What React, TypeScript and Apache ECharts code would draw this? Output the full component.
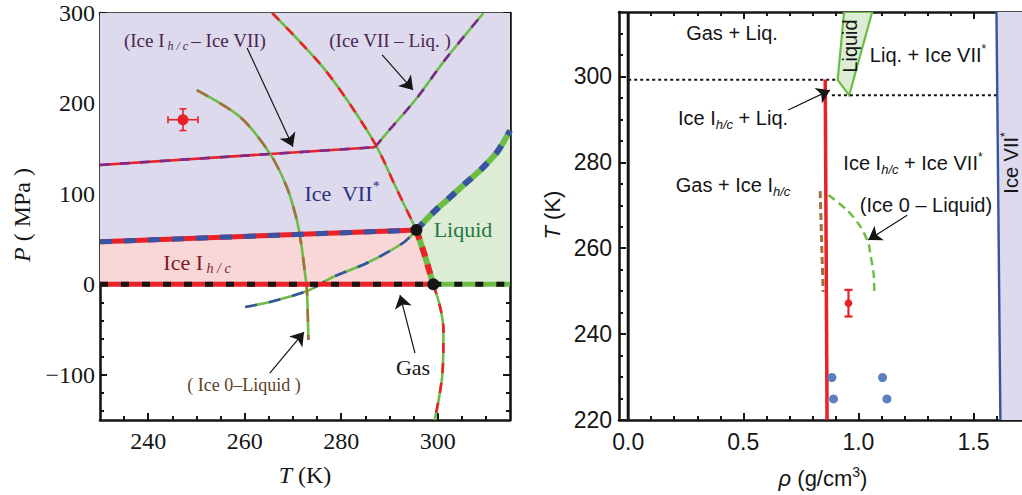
import React, { useEffect, useRef } from "react";
import * as echarts from "echarts";

const SERIF = "'Liberation Serif', 'Times New Roman', serif";
const SANS = "'Liberation Sans', Arial, Helvetica, sans-serif";

// ---------- Left panel: P (MPa) vs T (K) ----------
const leftTMajor = [240, 260, 280, 300];
const leftTMinor = [235, 245, 250, 255, 265, 270, 275, 285, 290, 295, 305, 310];
const leftPMajor = [-100, 0, 100, 200, 300];
const leftPMinor = [-140, -120, -80, -60, -40, -20, 20, 40, 60, 80, 120, 140, 160, 180, 220, 240, 260, 280];

const zeroPressureIce = [[230, 0], [299.1, 0]];
const zeroPressureLiquid = [[299.1, 0], [315, 0]];
const iceIhIceVII = [[230, 47], [295.6, 60]];
const liquidIceVII = [[295.6, 60], [299, 79], [301.9, 93], [305.2, 109], [308.8, 126], [312.3, 146], [315, 170]];
const meltingIceIh = [[295.6, 60], [297.4, 31], [299.1, 0]];
const meltingUpperExt = [[265.7, 300], [271.5, 267.9], [276.7, 236.9], [281.8, 199.3], [287.4, 151.8], [291.4, 106.5], [295.6, 60]];
const meltingLowerExt = [[299.1, 0], [300.5, -24.8], [301.2, -50.5], [301.0, -98.4], [299.4, -150]];
const iceIhIceVIIExt = [[230, 132], [287.0, 151.6]];
const iceVIILiqExt = [[287.0, 151.6], [289.4, 167], [295.7, 206], [301.2, 246], [306, 277.5], [309.5, 300]];
const ice0Liquid = [[250.05, 214.8], [259.0, 185.3], [265.2, 144.8], [268.7, 107.9], [270.8, 71.1], [271.8, 41.6], [272.5, 12.2], [272.9, -6.3], [273.2, -61.6]];
const ice0IceIh = [[260.1, -25.1], [265.2, -19.6], [272.9, -7.4], [278.3, 8.1], [285.35, 23.6], [292.8, 45.7], [295.6, 60]];
const triplePoints = [[295.6, 60], [299.1, 0]];
const leftMeasured = [[247.2, 182, 244.1, 250.3, 170, 194]];

const iceVIIRegion = [[230, 300], [315, 300], ...[...liquidIceVII].reverse(), [230, 47]];
const iceIhRegion = [[230, 47], [295.6, 60], [297.4, 31], [299.1, 0], [230, 0]];
const liquidRegion = [...liquidIceVII, [315, 0], [299.1, 0], [297.4, 31]];

// ---------- Right panel: T (K) vs rho (g/cm3) ----------
const rightRhoMajor = [0, 0.5, 1.0, 1.5];
const rightRhoMinor = [0.1, 0.2, 0.3, 0.4, 0.6, 0.7, 0.8, 0.9, 1.1, 1.2, 1.3, 1.4, 1.6, 1.7];
const rightTMajor = [220, 240, 260, 280, 300];
const rightTMinor = [225, 230, 235, 245, 250, 255, 265, 270, 275, 285, 290, 295, 305, 310];

const zeroDensity = [[0, 220], [0, 315]];
const upperTie = [[0, 299.2], [0.91, 299.2]];
const lowerTie = [[0.885, 295.6], [1.6, 295.6]];
const liquidBand = [[0.91, 299.2], [0.938, 315], [1.06, 315], [0.96, 295.6]];
const iceVIIEdge = [[1.6, 315], [1.617, 220]];
const iceVIIBand = [[1.6, 315], [1.9, 315], [1.9, 220], [1.617, 220]];
const iceIhDensity = [[0.856, 299.3], [0.864, 220]];
const ice0Density = [[0.834, 273.3], [0.84, 262], [0.847, 249.8]];
const ice0LiquidDensity = [[0.87, 272.4], [0.95, 268.9], [1.008, 265.1], [1.044, 261.1], [1.051, 258.9], [1.066, 254.2], [1.069, 249.9]];
const simPoints = [[0.885, 229.9], [0.892, 224.9], [1.105, 229.9], [1.124, 224.9]];
const rightMeasured = [[0.957, 247.2, 0.957, 0.957, 244.1, 250.3]];

// colors
const RED = "#ea2127";
const GREEN = "#6cbd45";
const BLUE = "#3953a4";
const PURPLE = "#7b2a8c";
const BROWN = "#a0713d";
const BLACK = "#151515";

const LA = { xAxisIndex: 0, yAxisIndex: 0 };
const RA = { xAxisIndex: 4, yAxisIndex: 4 };

function line(ax: any, data: any, color: string, width: number, z: number, dash: any = "solid", offset = 0, smooth: any = false) {
  return {
    type: "line", ...ax, data, symbol: "none", showSymbol: false, smooth, silent: true, z, clip: true,
    lineStyle: { color, width, type: dash, dashOffset: offset, cap: "butt", join: "round" },
  };
}
function pair(ax: any, data: any, c1: string, c2: string, width: number, dash: any, z: number, smooth: any = false) {
  return [line(ax, data, c1, width, z, "solid", 0, smooth), line(ax, data, c2, width, z + 1, dash, 0, smooth)];
}
function area(ax: any, pts: number[][], fill: string, z: number, stroke?: string, lw = 0) {
  return {
    type: "custom", ...ax, data: [[pts[0][0], pts[0][1]]], clip: true, silent: true, z,
    renderItem: (_p: any, api: any) => ({
      type: "polygon",
      shape: { points: pts.map((p) => api.coord(p)) },
      style: { fill, stroke: stroke || "none", lineWidth: lw },
    }),
  };
}
function errPoint(ax: any, data: number[][], color: string, r: number, cap: number, z: number) {
  return {
    type: "custom", ...ax, data, clip: false, silent: true, z,
    renderItem: (_p: any, api: any) => {
      const x = api.value(0), y = api.value(1), xl = api.value(2), xh = api.value(3), yl = api.value(4), yh = api.value(5);
      const c = api.coord([x, y]);
      const st = { stroke: color, lineWidth: 1.6 };
      const ch: any[] = [];
      if (xh > xl) {
        const a = api.coord([xl, y]), b = api.coord([xh, y]);
        ch.push({ type: "line", shape: { x1: a[0], y1: a[1], x2: b[0], y2: b[1] }, style: st });
        ch.push({ type: "line", shape: { x1: a[0], y1: a[1] - cap, x2: a[0], y2: a[1] + cap }, style: st });
        ch.push({ type: "line", shape: { x1: b[0], y1: b[1] - cap, x2: b[0], y2: b[1] + cap }, style: st });
      }
      if (yh > yl) {
        const a = api.coord([x, yl]), b = api.coord([x, yh]);
        const w = xh > xl ? 1.6 : 2.2;
        ch.push({ type: "line", shape: { x1: a[0], y1: a[1], x2: b[0], y2: b[1] }, style: { stroke: color, lineWidth: w } });
        ch.push({ type: "line", shape: { x1: a[0] - cap, y1: a[1], x2: a[0] + cap, y2: a[1] }, style: { stroke: color, lineWidth: w } });
        ch.push({ type: "line", shape: { x1: b[0] - cap, y1: b[1], x2: b[0] + cap, y2: b[1] }, style: { stroke: color, lineWidth: w } });
      }
      ch.push({ type: "circle", shape: { cx: c[0], cy: c[1], r }, style: { fill: color } });
      return { type: "group", children: ch };
    },
  };
}
function arrow(ax: any, from: number[], to: number[]) {
  return {
    type: "lines", coordinateSystem: "cartesian2d", ...ax, silent: true, z: 20,
    symbol: ["none", "arrow"], symbolSize: 13,
    lineStyle: { color: BLACK, width: 1.2, opacity: 1, curveness: 0 },
    itemStyle: { color: BLACK },
    data: [{ coords: [from, to] }],
  };
}

function axis(gridIndex: number, position: string, min: number, max: number, ticks: number[], len: number, showLine: boolean, label?: any) {
  return {
    type: "value", gridIndex, position, min, max,
    axisLine: { show: showLine, onZero: false, lineStyle: { color: BLACK, width: 2.6 } },
    axisTick: { show: true, inside: true, length: len, customValues: ticks, lineStyle: { color: BLACK, width: 2 } },
    axisLabel: label ? { show: true, customValues: ticks, ...label } : { show: false },
    splitLine: { show: false },
    minorTick: { show: false },
  };
}

const minusFmt = (v: number) => (v < 0 ? "\u2212" + Math.abs(v) : String(v));

function rich(font: string, color: string, size: number) {
  return {
    n: { fontFamily: font, fontSize: size, fill: color, color },
    i: { fontFamily: font, fontSize: size, fontStyle: "italic", fill: color, color },
    s: { fontFamily: font, fontSize: Math.round(size * 0.64), fontStyle: "italic", fill: color, color, padding: [Math.round(size * 0.6), 0, 0, 0] },
    p: { fontFamily: font, fontSize: Math.round(size * 0.62), fill: color, color, padding: [0, 0, Math.round(size * 0.6), 0] },
  };
}
function txt(x: number, y: number, text: string, r: any, rotation = 0) {
  return {
    type: "text", x, y, rotation, z: 100, silent: true,
    style: { text, rich: r, align: "center", verticalAlign: "middle", textAlign: "center", textVerticalAlign: "middle" },
  };
}

export default function App() {
  const ref = useRef<HTMLDivElement>(null);
  useEffect(() => {
    if (!ref.current) return;
    const chart = echarts.init(ref.current, undefined, { renderer: "svg" });
    const lTick = { fontFamily: SERIF, fontSize: 24, color: BLACK };
    const rTick = { fontFamily: SANS, fontSize: 23, color: BLACK };
    const option: any = {
      animation: false,
      backgroundColor: "#fff",
      grid: [
        { left: 100, top: 13, width: 410, height: 407 },
        { left: 619, top: 12, width: 412, height: 408 },
      ],
      xAxis: [
        axis(0, "bottom", 230, 315, leftTMajor, 7, true, { ...lTick, margin: 9, formatter: minusFmt }),
        axis(0, "bottom", 230, 315, leftTMinor, 4, false),
        axis(0, "top", 230, 315, leftTMajor, 7, true),
        axis(0, "top", 230, 315, leftTMinor, 4, false),
        axis(1, "bottom", -0.04, 1.75, rightRhoMajor, 7, true, { ...rTick, margin: 10, formatter: (v: number) => v.toFixed(1) }),
        axis(1, "bottom", -0.04, 1.75, rightRhoMinor, 4, false),
        axis(1, "top", -0.04, 1.75, rightRhoMajor, 7, true),
        axis(1, "top", -0.04, 1.75, rightRhoMinor, 4, false),
      ],
      yAxis: [
        axis(0, "left", -150, 300, leftPMajor, 7, true, { ...lTick, margin: 5, formatter: minusFmt }),
        axis(0, "left", -150, 300, leftPMinor, 4, false),
        axis(0, "right", -150, 300, leftPMajor, 7, true),
        axis(0, "right", -150, 300, leftPMinor, 4, false),
        axis(1, "left", 220, 315, rightTMajor, 7, true, { ...rTick, margin: 7 }),
        axis(1, "left", 220, 315, rightTMinor, 4, false),
      ],
      series: [
        // left fills
        area(LA, iceVIIRegion, "#dcdaec", 1),
        area(LA, iceIhRegion, "#f9d6d7", 1),
        area(LA, liquidRegion, "#dcecd5", 1),
        // thin metastable lines
        ...pair(LA, iceIhIceVIIExt, RED, PURPLE, 2.6, [10, 10], 3),
        ...pair(LA, iceVIILiqExt, GREEN, PURPLE, 2.6, [10, 12], 3, 0.3),
        ...pair(LA, ice0Liquid, GREEN, BROWN, 2.6, [13, 13], 3, 0.3),
        ...pair(LA, ice0IceIh, GREEN, BLUE, 2.6, [12, 12], 3, 0.3),
        ...pair(LA, meltingUpperExt, GREEN, RED, 2.6, [10, 10], 3, 0.3),
        ...pair(LA, meltingLowerExt, GREEN, RED, 2.6, [10, 10], 3, 0.3),
        // thick coexistence lines
        ...pair(LA, iceIhIceVII, RED, BLUE, 5, [12, 12], 6),
        ...pair(LA, liquidIceVII, GREEN, BLUE, 6, [10, 12], 6, 0.3),
        ...pair(LA, meltingIceIh, GREEN, RED, 6, [10, 8], 6),
        ...pair(LA, zeroPressureIce, RED, BLACK, 5, [8, 13], 6),
        ...pair(LA, zeroPressureLiquid, GREEN, BLACK, 5, [8, 13], 6),
        {
          type: "scatter", ...LA, data: triplePoints, symbol: "circle", symbolSize: 12, silent: true, z: 12,
          itemStyle: { color: BLACK, opacity: 1 },
        },
        errPoint(LA, leftMeasured, RED, 5.5, 3.5, 12),
        arrow(LA, [260.5, 261.3], [270.0, 152.0]),
        arrow(LA, [288.5, 253.6], [294.9, 214.9]),
        arrow(LA, [295.3, -76.0], [292.2, -11.9]),
        arrow(LA, [265.2, -98.1], [272.3, -52.8]),

        // right panel
        area(RA, iceVIIBand, "#dcdaec", 1),
        area(RA, liquidBand, "#dcecd5", 2, GREEN, 2.2),
        line(RA, iceVIIEdge, BLUE, 2.4, 5),
        line(RA, zeroDensity, BLACK, 3, 5),
        line(RA, upperTie, BLACK, 2, 5, [3, 3]),
        line(RA, lowerTie, BLACK, 2, 5, [3, 3]),
        line(RA, iceIhDensity, RED, 3.5, 6),
        line(RA, ice0Density, BROWN, 3, 6, [7, 4]),
        line(RA, ice0LiquidDensity, GREEN, 2.5, 6, [8, 5], 0, 0.3),
        {
          type: "scatter", ...RA, data: simPoints, symbol: "circle", symbolSize: 9, silent: true, z: 8,
          itemStyle: { color: "#5b7fbf", opacity: 1 },
        },
        errPoint(RA, rightMeasured, RED, 3.8, 4, 8),
        arrow(RA, [0.695, 292.2], [0.877, 296.8]),
        arrow(RA, [1.212, 267.7], [1.043, 261.9]),
      ],
      graphic: [
        // left panel annotations
        txt(195, 40, "{n|(Ice I}{s| h / c }{n|\u2013 Ice VII)}", rich(SERIF, "#4a2552", 19)),
        txt(390, 40, "{n|(Ice VII \u2013 Liq. )}", rich(SERIF, "#4a2552", 19)),
        txt(342, 193, "{n|Ice  VII}{p|*}", rich(SERIF, "#2c2f80", 22)),
        txt(463, 229, "{n|Liquid}", rich(SERIF, "#1f7a3e", 22)),
        txt(197, 262, "{n|Ice I}{s| h / c}", rich(SERIF, "#7b1a1e", 22)),
        txt(413, 367, "{n|Gas}", rich(SERIF, BLACK, 22)),
        txt(244, 385, "{n|( Ice 0\u2013Liquid )}", rich(SERIF, "#5c4127", 18)),
        txt(22, 215, "{i|P}{n| ( MPa )}", rich(SERIF, BLACK, 24), Math.PI / 2),
        txt(305, 475, "{i|T}{n| (K)}", rich(SERIF, BLACK, 24)),
        // right panel annotations
        txt(732, 33, "{n|Gas + Liq.}", rich(SANS, BLACK, 20)),
        txt(928, 55, "{n|Liq. + Ice VII}{p|*}", rich(SANS, BLACK, 20)),
        txt(733, 118, "{n|Ice I}{s|h/c}{n| + Liq.}", rich(SANS, BLACK, 20)),
        txt(913, 163, "{n|Ice I}{s|h/c}{n| + Ice VII}{p|*}", rich(SANS, BLACK, 20)),
        txt(733, 185, "{n|Gas + Ice I}{s|h/c}", rich(SANS, BLACK, 20)),
        txt(926, 205, "{n|(Ice 0 \u2013 Liquid)}", rich(SANS, BLACK, 20)),
        txt(850, 46, "{n|Liquid}", rich(SANS, BLACK, 20), Math.PI / 2),
        txt(1011, 163, "{n|Ice VII}{p|*}", rich(SANS, BLACK, 20), Math.PI / 2),
        txt(552, 215, "{i|T}{n| (K)}", rich(SANS, BLACK, 22), Math.PI / 2),
        txt(823, 478, "{i|\u03c1}{n| (g/cm}{p|3}{n|)}", rich(SANS, BLACK, 22)),
      ],
    };
    chart.setOption(option);
    return () => chart.dispose();
  }, []);
  return (
    <div style={{ position: "absolute", left: 0, top: 0, width: 1022, height: 495, overflow: "hidden", background: "#fff" }}>
      <div ref={ref} style={{ width: 1040, height: 495 }} />
    </div>
  );
}
